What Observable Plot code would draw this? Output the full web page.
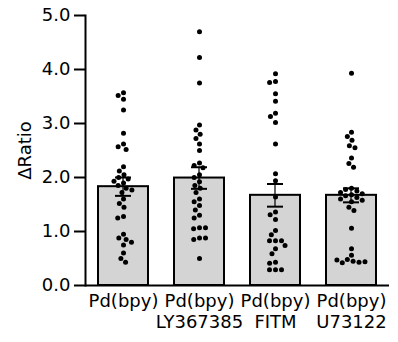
<!DOCTYPE html>
<html><head><meta charset="utf-8">
<script src="https://cdn.jsdelivr.net/npm/d3@7"></script>
<script src="https://cdn.jsdelivr.net/npm/@observablehq/plot@0.6"></script>
<style>body{margin:0;background:#fff}</style>
</head><body><div id="chart"></div>
<script>
const groups = ["Pd(bpy)", "Pd(bpy)\nLY367385", "Pd(bpy)\nFITM", "Pd(bpy)\nU73122"];
const means = [1.83, 1.99, 1.67, 1.67];
const sems = [0.17, 0.20, 0.21, 0.13];
const ctrlVals = [3.57, 3.52, 3.45, 3.25, 2.82, 2.62, 2.57, 2.52, 2.2, 2.12, 2.05, 2.0, 1.97, 1.93, 1.9, 1.85, 1.8, 1.77, 1.72, 1.6, 1.52, 1.45, 1.28, 1.25, 0.95, 0.88, 0.85, 0.8, 0.75, 0.6, 0.5, 0.43];
const lyVals = [4.7, 4.22, 3.75, 2.97, 2.88, 2.8, 2.72, 2.62, 2.5, 2.27, 2.22, 2.18, 2.05, 2.0, 1.92, 1.85, 1.8, 1.72, 1.6, 1.55, 1.48, 1.4, 1.3, 1.25, 1.07, 1.05, 1.07, 0.88, 0.85, 0.88, 0.5];
const fitmVals = [3.92, 3.78, 3.76, 3.55, 3.41, 3.19, 3.13, 3.02, 2.62, 2.07, 1.94, 1.64, 1.36, 1.31, 1.22, 1.02, 0.94, 0.83, 0.83, 0.83, 0.74, 0.68, 0.59, 0.43, 0.41, 0.29, 0.29, 0.29];
const u73Vals = [3.93, 2.84, 2.76, 2.69, 2.59, 2.55, 2.36, 2.26, 2.19, 1.8, 1.78, 1.75, 1.72, 1.7, 1.68, 1.66, 1.63, 1.6, 1.58, 1.55, 1.45, 1.39, 1.06, 0.68, 0.56, 0.48, 0.45, 0.43, 0.42, 0.44, 0.47];
const yTicks = [0, 1, 2, 3, 4, 5];

const seriesVals = [ctrlVals, lyVals, fitmVals, u73Vals];
const summary = groups.map((g, i) => ({group: g, mean: means[i], lo: means[i] - sems[i], hi: means[i] + sems[i]}));
const points = seriesVals.flatMap((vals, i) => vals.map(v => ({group: groups[i], value: v})));

const chart = Plot.plot({
  width: 398, height: 342,
  marginLeft: 83, marginRight: 8, marginTop: 15, marginBottom: 57,
  style: {fontFamily: "DejaVu Sans", fontSize: "18px", color: "black", background: "white"},
  fx: {domain: groups, paddingInner: 0, paddingOuter: 0, label: null},
  y: {domain: [0, 5]},
  marks: [
    Plot.barY(summary, {fx: "group", y: "mean", fill: "#d4d4d4", stroke: "black", strokeWidth: 2, insetLeft: 13, insetRight: 13}),
    Plot.ruleY([0], {strokeWidth: 2}),
    Plot.dot(points, Plot.dodgeX("middle", {fx: "group", y: "value", r: 2.5, fill: "black", padding: 0})),
    Plot.barY(summary, {fx: "group", y1: "lo", y2: "hi", fill: "black", insetLeft: 37.4, insetRight: 37.4}),
    Plot.tickY(summary, {fx: "group", y: "hi", strokeWidth: 2, insetLeft: 30, insetRight: 30}),
    Plot.tickY(summary, {fx: "group", y: "lo", strokeWidth: 2, insetLeft: 30, insetRight: 30}),
    Plot.axisY({ticks: yTicks, tickFormat: d3.format(".1f"), tickSize: 11, tickPadding: 4, strokeWidth: 2,
      label: "ΔRatio", labelAnchor: "center", labelArrow: "none", labelOffset: 67}),
    Plot.frame({anchor: "left", strokeWidth: 2, facetAnchor: "left"}),
    Plot.axisFx({anchor: "bottom", tickSize: 0, tickPadding: 6, lineHeight: 1.2, label: null})
  ]
});
document.getElementById("chart").appendChild(chart);
</script>
</body></html>
